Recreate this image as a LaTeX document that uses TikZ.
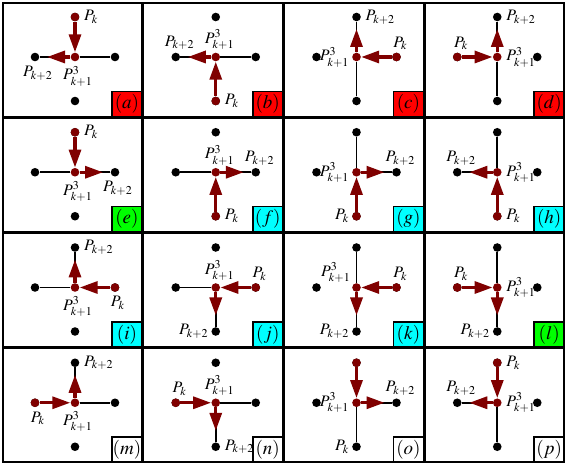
\documentclass[tikz,border=0pt]{standalone}
\usepackage{mathptmx}
\usepackage{fontspec}
\setmainfont{Liberation Serif}
\usetikzlibrary{arrows.meta, positioning, calc}
\definecolor{arrowred}{RGB}{128,0,0}
\definecolor{tagred}{RGB}{255,0,0}
\definecolor{taggreen}{RGB}{0,255,0}
\definecolor{tagcyan}{RGB}{0,255,255}

\begin{document}
\begin{tikzpicture}[
        x=1pt, y=1pt,
        panel/.style={draw=black, line width=0.8pt},
        dot/.style={circle, fill=black, inner sep=0pt, minimum size=4.3pt},
        reddot/.style={dot, fill=arrowred},
        link/.style={draw=black, line width=0.8pt},
        move/.style={draw=arrowred, line width=1.6pt, -{Triangle[length=9pt, width=6pt]}},
        lbl/.style={inner sep=0.5pt, font=\fontsize{8}{9}\selectfont},
        lab n/.style={above=0.5pt of #1, xshift=2pt},
        lab s/.style={below=1.5pt of #1, xshift=1.5pt},
        lab e/.style={right=1.5pt of #1},
        lab w/.style={left=0.5pt of #1},
        lab nw/.style={above left=0pt and 0.5pt of #1},
        tagbox/.style={draw, line width=0.8pt, outer sep=0pt, inner sep=0pt, minimum width=15pt, minimum height=12.5pt, anchor=south east, font=\fontsize{9.5}{11}\selectfont}
    ]
    \useasboundingbox (0,0) rectangle (283,232.5);
    \fill[white] (0,0) rectangle (283,232.5);
    % Panels: id/col/row/from/to/through/box colour/P_k at/P_k side/P_{k+2} side/P^3_{k+1} side
    \foreach \id/\col/\row/\src/\dst/\thru/\fillc/\atk/\posk/\posn/\posc in {
        a/0/0/N/W/E/tagred/N/e/s/s,
        b/1/0/S/W/E/tagred/S/e/n/n,
        c/2/0/E/N/S/tagred/E/n/e/w,
        d/3/0/W/N/S/tagred/W/n/e/e,
        e/0/1/N/E/W/taggreen/N/e/s/s,
        f/1/1/S/E/W/tagcyan/S/e/n/n,
        g/2/1/S/E/N/tagcyan/S/w/n/w,
        h/3/1/S/W/N/tagcyan/S/e/n/e,
        i/0/2/E/N/W/tagcyan/E/s/e/s,
        j/1/2/E/S/W/tagcyan/E/n/w/n,
        k/2/2/E/S/N/tagcyan/E/n/w/nw,
        l/3/2/W/S/N/taggreen/W/n/w/e,
        m/0/3/W/N/E/white/W/s/e/s,
        n/1/3/W/S/E/white/W/n/e/n,
        o/2/3/N/E/S/white/S/w/n/w,
        p/3/3/N/W/S/white/N/e/n/e}{
    \begin{scope}[shift={(1+\col*70.375, 231.5-\row*57.625)}]
        % Frame
        \draw[panel] (0.4,-0.4) rectangle (69.975,-57.225);
        % Points
        \node[reddot] (\id C) at (36.5,-27.5) {};
        \node[dot] (\id N) at (36.5,-7.5) {};
        \node[dot] (\id S) at (36.5,-49.5) {};
        \node[dot] (\id W) at (16.5,-27.5) {};
        \node[dot] (\id E) at (56.5,-27.5) {};
        \node[reddot] (\id Pk) at (\id\src) {};
        % Links and moves
        \draw[link] (\id C) -- (\id\dst);
        \draw[link] (\id C) -- (\id\thru);
        \coordinate (\id T) at ($(\id C)!14pt!(\id\dst)$);
        \draw[move] (\id Pk) -- (\id C);
        \draw[move] (\id C) -- (\id T);
        % Labels
        \node[lbl, lab \posk=\id\atk] (\id Lk) {$P_k$};
        \node[lbl, lab \posn=\id\dst] (\id Ln) {$P_{k+2}$};
        \node[lbl, lab \posc=\id C] (\id Lc) {$P^3_{k+1}$};
        \node[tagbox, fill=\fillc] (\id Tag) at (69.975,-57.225) {$(\id)$};
    \end{scope}
    }
\end{tikzpicture}
\end{document}
